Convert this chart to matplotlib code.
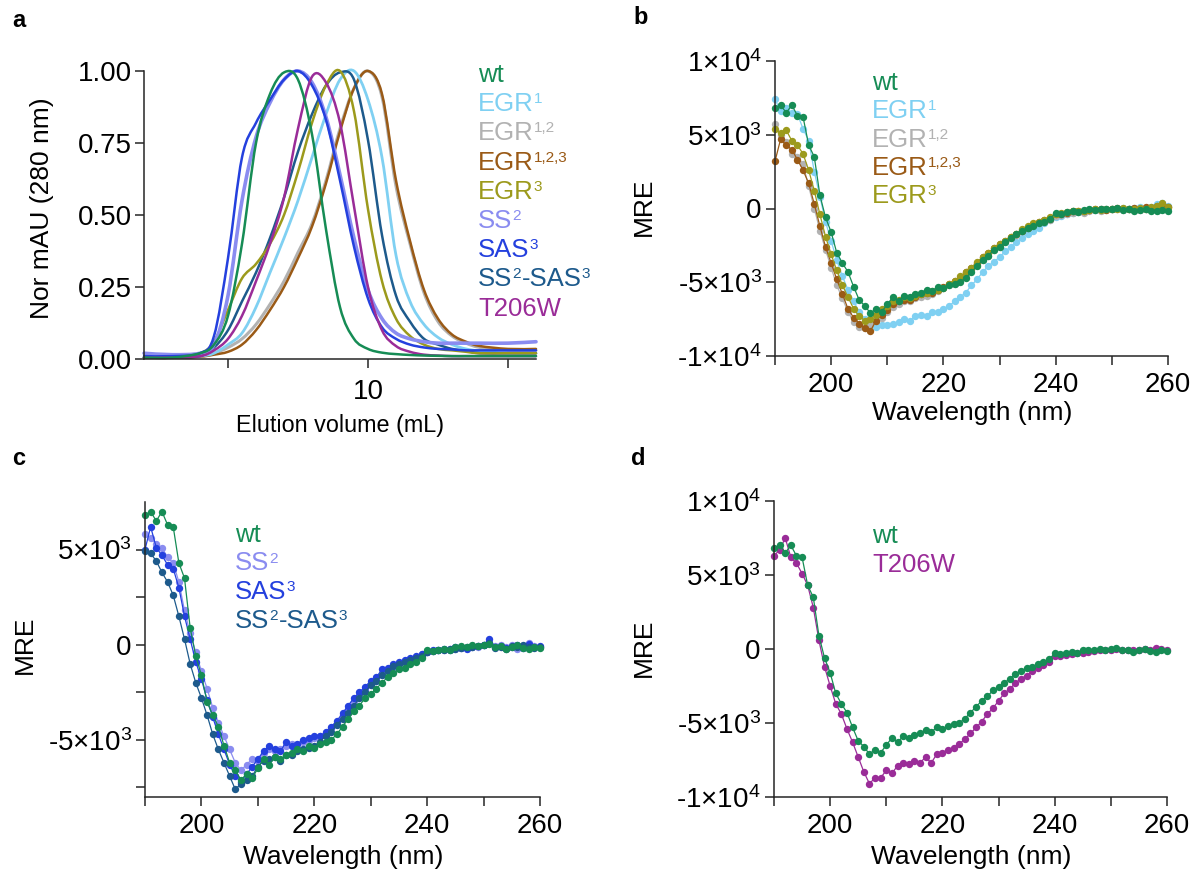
import numpy as np
import matplotlib
matplotlib.use('Agg')
import matplotlib.pyplot as plt
from matplotlib.path import Path
from matplotlib.patches import PathPatch
from matplotlib.ticker import FixedLocator, NullFormatter

plt.rcParams['font.family'] = ['Liberation Sans', 'DejaVu Sans']
plt.rcParams['mathtext.fontset'] = 'custom'
plt.rcParams['mathtext.rm'] = 'Liberation Sans'
plt.rcParams['mathtext.it'] = 'Liberation Sans:italic'
plt.rcParams['mathtext.bf'] = 'Liberation Sans:bold'

# ---------------- data: panel a (SEC, normalised absorbance) ----------------
elution_ml = [2, 3, 4, 4.5, 5, 5.5, 6, 6.5, 7, 7.5, 8, 8.5, 9, 9.5, 10, 10.5,
              11, 11.5, 12, 12.5, 13, 13.5, 14, 15, 16]
sec_wt = [0.005, 0.005, 0.02, 0.05, 0.15, 0.40, 0.75, 0.92, 0.995, 0.97, 0.78, 0.45, 0.18,
          0.07, 0.035, 0.022, 0.017, 0.014, 0.012, 0.011, 0.01, 0.01, 0.01, 0.01, 0.01]
sec_egr1 = [0.005, 0.005, 0.01, 0.02, 0.05, 0.09, 0.18, 0.30, 0.42, 0.55, 0.70, 0.85, 0.97,
            1.0, 0.90, 0.70, 0.36, 0.20, 0.12, 0.075, 0.05, 0.035, 0.028, 0.02, 0.02]
sec_egr12 = [0.005, 0.005, 0.01, 0.02, 0.04, 0.07, 0.12, 0.19, 0.27, 0.37, 0.47, 0.62, 0.80,
             0.94, 1.0, 0.91, 0.60, 0.40, 0.23, 0.13, 0.08, 0.055, 0.04, 0.03, 0.03]
sec_egr123 = [0.005, 0.005, 0.008, 0.015, 0.025, 0.05, 0.10, 0.17, 0.25, 0.35, 0.46, 0.61, 0.79,
              0.94, 1.0, 0.92, 0.62, 0.41, 0.24, 0.14, 0.085, 0.06, 0.045, 0.035, 0.035]
sec_egr3 = [0.005, 0.005, 0.02, 0.06, 0.17, 0.28, 0.33, 0.40, 0.50, 0.65, 0.82, 0.95, 1.0,
            0.86, 0.52, 0.27, 0.14, 0.08, 0.05, 0.035, 0.03, 0.025, 0.02, 0.02, 0.02]
sec_ss2 = [0.02, 0.015, 0.02, 0.05, 0.22, 0.55, 0.77, 0.89, 0.97, 1.0, 0.96, 0.84, 0.64,
           0.42, 0.24, 0.14, 0.09, 0.07, 0.06, 0.055, 0.055, 0.055, 0.055, 0.055, 0.06]
sec_sas3 = [0.01, 0.01, 0.02, 0.08, 0.35, 0.70, 0.82, 0.90, 0.97, 1.0, 0.95, 0.83, 0.62,
            0.39, 0.21, 0.11, 0.07, 0.05, 0.04, 0.035, 0.033, 0.03, 0.03, 0.03, 0.03]
sec_ss2sas3 = [0.005, 0.005, 0.01, 0.04, 0.10, 0.20, 0.30, 0.42, 0.56, 0.72, 0.85, 0.95, 0.995,
               0.97, 0.76, 0.43, 0.22, 0.13, 0.07, 0.05, 0.035, 0.028, 0.02, 0.02, 0.02]
sec_t206w = [0.005, 0.005, 0.01, 0.03, 0.07, 0.15, 0.27, 0.40, 0.56, 0.80, 0.98, 0.96, 0.82,
             0.53, 0.25, 0.10, 0.045, 0.025, 0.015, 0.012, 0.01, 0.01, 0.01, 0.01, 0.01]

# ---------------- data: CD spectra (MRE), 190-260 nm, 1 nm steps ----------------
wavelength_nm = list(range(190, 261))
cd_wt = [6800, 7000, 6500, 7000, 6300, 6200, 4300, 3500, 900, -600,
         -1600, -3000, -3700, -4300, -5300, -6200, -6600, -7100, -6800, -7000,
         -6500, -6000, -6300, -5900, -6000, -5800, -5700, -5500, -5600, -5300,
         -5400, -5200, -5100, -5000, -4700, -4300, -3900, -3500, -3200, -2800,
         -2600, -2300, -2000, -1700, -1500, -1300, -1200, -1000, -900, -700,
         -300, -350, -250, -200, -250, -100, -50, -100, 0, -50,
         0, 50, -100, -50, -200, -100, 0, -150, -200, -100, -150]
cd_egr1 = [7400, 6600, 6800, 6500, 6400, 5400, 4600, 2500, 800, -900,
           -2200, -3500, -4600, -5500, -6300, -7000, -7500, -7800, -8000, -7900,
           -7900, -7800, -7700, -7500, -7600, -7300, -7200, -7300, -7000, -7000,
           -6800, -6600, -6300, -6000, -5700, -5200, -4800, -4300, -3900, -3600,
           -3300, -2900, -2600, -2300, -2000, -1700, -1500, -1300, -1000, -800,
           -600, -500, -350, -300, -250, -200, -100, -100, -50, 0,
           -50, 0, 50, 0, 50, 100, 0, 100, 300, 350, 150]
cd_egr12 = [5700, 5000, 4500, 3700, 3500, 3000, 1500, 0, -1500, -2800,
            -4000, -5200, -6100, -7000, -7700, -8000, -8100, -7900, -7600, -7400,
            -7000, -6700, -6500, -6300, -6300, -6100, -6000, -5900, -5800, -5600,
            -5400, -5200, -5100, -4800, -4500, -4200, -3800, -3500, -3200, -2800,
            -2600, -2300, -2000, -1800, -1500, -1300, -1100, -1000, -900, -800,
            -500, -450, -350, -300, -250, -300, -200, -100, -150, -100,
            -50, 0, -100, -50, 0, -100, -50, 0, 100, 50, 100]
cd_egr123 = [3200, 4700, 4300, 4000, 3300, 2600, 1700, 300, -1200, -2600,
             -3700, -4800, -5800, -6800, -7400, -7800, -8100, -8300, -7600, -7200,
             -6900, -6500, -6300, -6200, -6200, -6000, -5800, -5700, -5700, -5500,
             -5300, -5100, -4900, -4700, -4300, -4000, -3700, -3300, -3000, -2700,
             -2400, -2200, -1900, -1700, -1500, -1300, -1100, -900, -800, -700,
             -400, -350, -300, -200, -150, -200, -100, -50, 0, -100,
             0, 50, 0, -50, 50, 0, 100, 50, 200, 300, 100]
cd_egr3 = [5400, 5100, 5300, 4600, 4300, 3700, 2600, 1200, -400, -1900,
           -3100, -4200, -5200, -6000, -6800, -7300, -7600, -7500, -7200, -6800,
           -6600, -6300, -6200, -6000, -6100, -5900, -5800, -5700, -5600, -5500,
           -5400, -5100, -4900, -4600, -4300, -4000, -3600, -3300, -3000, -2700,
           -2400, -2200, -1900, -1700, -1400, -1200, -1000, -900, -800, -600,
           -400, -300, -250, -200, -200, -150, -100, -50, -100, 0,
           -50, 0, 50, 0, -50, 50, 0, 100, 200, 350, 100]
cd_ss2 = [5800, 5600, 5300, 5100, 4600, 4300, 3300, 1800, 600, -400,
          -1400, -2300, -3300, -4100, -4800, -5500, -6200, -6600, -6300, -6000,
          -6100, -5700, -5500, -5600, -5500, -5300, -5200, -5400, -5100, -5000,
          -4900, -4800, -4700, -4400, -4100, -3700, -3400, -3000, -2700, -2400,
          -2100, -1900, -1600, -1400, -1200, -1000, -900, -800, -700, -500,
          -400, -350, -300, -250, -200, -200, -100, -150, -50, -100,
          0, 100, -50, 0, -100, 0, -200, -100, 100, -50, -100]
cd_sas3 = [5000, 6200, 5100, 4700, 4200, 4000, 3000, 1500, 300, -900,
           -1800, -2900, -3800, -4700, -5500, -6300, -6900, -7200, -6800, -6400,
           -6000, -5600, -5300, -5500, -5600, -5100, -5300, -5200, -5000, -4900,
           -4800, -4800, -4600, -4300, -4000, -3600, -3200, -2800, -2500, -2200,
           -1900, -1700, -1300, -1200, -1000, -900, -800, -700, -600, -500,
           -400, -300, -300, -200, -250, -100, -150, -200, -100, -50,
           0, 300, -100, -50, -150, -100, 0, -150, 50, -100, -50]
cd_ss2sas3 = [4900, 4800, 4400, 3800, 3300, 2600, 1500, 300, -1000, -2000,
              -2800, -3700, -4700, -5500, -6200, -6900, -7600, -7300, -7100, -6900,
              -6400, -6100, -6000, -5900, -6100, -5800, -5800, -5600, -5500, -5400,
              -5300, -5100, -4800, -4600, -4200, -3900, -3600, -3200, -2800, -2500,
              -2100, -1900, -1600, -1400, -1100, -1000, -900, -800, -700, -600,
              -400, -350, -300, -250, -200, -200, -150, -100, -100, -50,
              0, 100, -150, -100, -200, -50, -100, 0, -100, -150, -100]
cd_t206w = [6300, 6700, 7500, 6200, 5800, 5100, 4300, 2800, 600, -1200,
            -2500, -3700, -4400, -5400, -6300, -7300, -8300, -9100, -8700, -8700,
            -8200, -8400, -7900, -7700, -7800, -7600, -7700, -7300, -7700, -7100,
            -7000, -6800, -6700, -6400, -6100, -5700, -5300, -4900, -4400, -4000,
            -3500, -3000, -2700, -2300, -2000, -1800, -1500, -1300, -1100, -900,
            -500, -450, -400, -350, -300, -250, -200, -150, -100, -100,
            -50, 0, -100, -50, -100, -50, 0, -50, 50, 0, -50]

# labels (text piece, is-superscript) and colours
C_WT = '#168c55'
C_EGR1 = '#7fd0f2'
C_EGR12 = '#b2b2b2'
C_EGR123 = '#9a5a16'
C_EGR3 = '#9c9a1c'
C_SS2 = '#8a8cf0'
C_SAS3 = '#2440de'
C_SS2SAS3 = '#1d5a8c'
C_T206W = '#9a2c98'

LBL_WT = [('wt', False)]
LBL_EGR1 = [('EGR', False), ('1', True)]
LBL_EGR12 = [('EGR', False), ('1,2', True)]
LBL_EGR123 = [('EGR', False), ('1,2,3', True)]
LBL_EGR3 = [('EGR', False), ('3', True)]
LBL_SS2 = [('SS', False), ('2', True)]
LBL_SAS3 = [('SAS', False), ('3', True)]
LBL_SS2SAS3 = [('SS', False), ('2', True), ('-SAS', False), ('3', True)]
LBL_T206W = [('T206W', False)]

W, H = 1203, 883
fig = plt.figure(figsize=(W / 100, H / 100), dpi=100)
renderer = fig.canvas.get_renderer()
SPINE = '#262626'
TICK_FS = 20
LAB_FS = 19
LEG_FS = 18.5


def rect(l, t, r, b):
    return [l / W, 1 - b / H, (r - l) / W, (b - t) / H]


def style(ax):
    for s in ('top', 'right'):
        ax.spines[s].set_visible(False)
    for s in ('left', 'bottom'):
        ax.spines[s].set_color(SPINE)
        ax.spines[s].set_linewidth(1.1)
    ax.tick_params(which='both', direction='out', length=6.5, width=1.1,
                   color=SPINE, labelsize=TICK_FS, labelcolor='black')


def smooth_path(x, y):
    x = np.asarray(x, float)
    y = np.asarray(y, float)
    n = len(x)
    verts = [(x[0], y[0])]
    codes = [Path.MOVETO]
    for i in range(n - 1):
        i0, i3 = max(i - 1, 0), min(i + 2, n - 1)
        c1 = (x[i] + (x[i + 1] - x[i0]) / 6, y[i] + (y[i + 1] - y[i0]) / 6)
        c2 = (x[i + 1] - (x[i3] - x[i]) / 6, y[i + 1] - (y[i3] - y[i]) / 6)
        verts += [c1, c2, (x[i + 1], y[i + 1])]
        codes += [Path.CURVE4] * 3
    return Path(verts, codes)


def rich_text(x_px, base_px, pieces, color, fs):
    x = x_px
    for s, sup in pieces:
        size = fs * 0.6 if sup else fs
        y = base_px - (fs * 0.31 * 100 / 72 if sup else 0)
        t = fig.text(x / W, 1 - y / H, s, fontsize=size, color=color,
                     ha='left', va='baseline')
        x += t.get_window_extent(renderer).width + (1 if sup else 0)


def legend_text(x, baselines, labels, colors):
    for b, lab, c in zip(baselines, labels, colors):
        rich_text(x, b, lab, c, LEG_FS)


# ---------------- panel a ----------------
axa = fig.add_axes(rect(144, 71, 536, 359))
style(axa)
sec_series = [
    (sec_egr12, C_EGR12, 2.2), (sec_egr123, C_EGR123, 1.8), (sec_egr1, C_EGR1, 2.0),
    (sec_ss2sas3, C_SS2SAS3, 1.8), (sec_egr3, C_EGR3, 1.8), (sec_ss2, C_SS2, 2.6),
    (sec_sas3, C_SAS3, 1.8), (sec_t206w, C_T206W, 1.8), (sec_wt, C_WT, 1.8),
]
for ys, c, lw in sec_series:
    axa.add_patch(PathPatch(smooth_path(elution_ml, ys), fill=False, edgecolor=c,
                            lw=lw, clip_on=False, capstyle='round', joinstyle='round'))
axa.set_xlim(2, 16)
axa.set_ylim(0, 1.0)
axa.set_xticks([5, 10, 15])
axa.set_xticklabels(['', '10', ''])
axa.set_yticks([0, 0.25, 0.5, 0.75, 1.0])
axa.set_yticklabels(['0.00', '0.25', '0.50', '0.75', '1.00'])
axa.tick_params(axis='x', pad=8)
axa.tick_params(axis='y', pad=2)
fig.text(340 / W, 1 - 425 / H, 'Elution volume (mL)', fontsize=16.8, ha='center', va='center')
fig.text(42 / W, 1 - 208 / H, 'Nor mAU (280 nm)', fontsize=LAB_FS, ha='center', va='center',
         rotation=90)
legend_text(478, [82 + 29.2 * i for i in range(9)],
            [LBL_WT, LBL_EGR1, LBL_EGR12, LBL_EGR123, LBL_EGR3, LBL_SS2, LBL_SAS3,
             LBL_SS2SAS3, LBL_T206W],
            [C_WT, C_EGR1, C_EGR12, C_EGR123, C_EGR3, C_SS2, C_SAS3, C_SS2SAS3, C_T206W])


# ---------------- CD panels ----------------
def cd_axes(r, ylim, ymajor, ylabels, yminor):
    ax = fig.add_axes(r)
    style(ax)
    ax.set_xlim(190, 260)
    ax.set_ylim(*ylim)
    ax.xaxis.set_major_locator(FixedLocator([200, 220, 240, 260]))
    ax.xaxis.set_minor_locator(FixedLocator([190, 210, 230, 250]))
    ax.xaxis.set_minor_formatter(NullFormatter())
    ax.set_xticklabels(['200', '220', '240', '260'])
    ax.yaxis.set_major_locator(FixedLocator(ymajor))
    ax.set_yticklabels(ylabels)
    ax.yaxis.set_minor_locator(FixedLocator(yminor))
    ax.yaxis.set_minor_formatter(NullFormatter())
    ax.tick_params(axis='x', which='both', pad=5)
    ax.tick_params(axis='y', which='both', pad=3)
    return ax


def cd_plot(ax, series):
    for ys, c in series:
        ax.plot(wavelength_nm, ys, '-o', color=c, lw=0.9, ms=5.3, mew=0, clip_on=False)


big_ticks = [-10000, -5000, 0, 5000, 10000]
big_labels = [r'-1×10$^{4}$', r'-5×10$^{3}$', '0', r'5×10$^{3}$', r'1×10$^{4}$']

# panel b
axb = cd_axes(rect(775, 61, 1168, 356), (-10000, 10000), big_ticks, big_labels, [])
cd_plot(axb, [(cd_egr1, C_EGR1), (cd_egr12, C_EGR12), (cd_egr123, C_EGR123),
              (cd_egr3, C_EGR3), (cd_wt, C_WT)])
fig.text(972 / W, 1 - 413 / H, 'Wavelength (nm)', fontsize=LAB_FS, ha='center', va='center')
fig.text(644 / W, 1 - 207 / H, 'MRE', fontsize=LAB_FS, ha='center', va='center', rotation=90)
legend_text(872, [90 + 28.3 * i for i in range(5)],
            [LBL_WT, LBL_EGR1, LBL_EGR12, LBL_EGR123, LBL_EGR3],
            [C_WT, C_EGR1, C_EGR12, C_EGR123, C_EGR3])

# panel c
axc = cd_axes(rect(145, 502, 540, 797), (-8000, 7500), [-5000, 0, 5000],
              [r'-5×10$^{3}$', '0', r'5×10$^{3}$'], [-7500, -2500, 2500])
cd_plot(axc, [(cd_ss2, C_SS2), (cd_sas3, C_SAS3), (cd_ss2sas3, C_SS2SAS3), (cd_wt, C_WT)])
fig.text(343 / W, 1 - 857 / H, 'Wavelength (nm)', fontsize=LAB_FS, ha='center', va='center')
fig.text(25 / W, 1 - 645 / H, 'MRE', fontsize=LAB_FS, ha='center', va='center', rotation=90)
legend_text(235, [542 + 28.5 * i for i in range(4)],
            [LBL_WT, LBL_SS2, LBL_SAS3, LBL_SS2SAS3],
            [C_WT, C_SS2, C_SAS3, C_SS2SAS3])

# panel d
axd = cd_axes(rect(774, 501, 1167, 797), (-10000, 10000), big_ticks, big_labels, [])
cd_plot(axd, [(cd_t206w, C_T206W), (cd_wt, C_WT)])
fig.text(971 / W, 1 - 857 / H, 'Wavelength (nm)', fontsize=LAB_FS, ha='center', va='center')
fig.text(644 / W, 1 - 648 / H, 'MRE', fontsize=LAB_FS, ha='center', va='center', rotation=90)
legend_text(872, [543, 572], [LBL_WT, LBL_T206W], [C_WT, C_T206W])

# panel letters
for x, b, s in [(12, 27, 'a'), (633, 24, 'b'), (12, 465, 'c'), (631, 465, 'd')]:
    fig.text(x / W, 1 - b / H, s, fontsize=17, fontweight='bold', ha='left', va='baseline')

fig.savefig('out.png', dpi=100)
